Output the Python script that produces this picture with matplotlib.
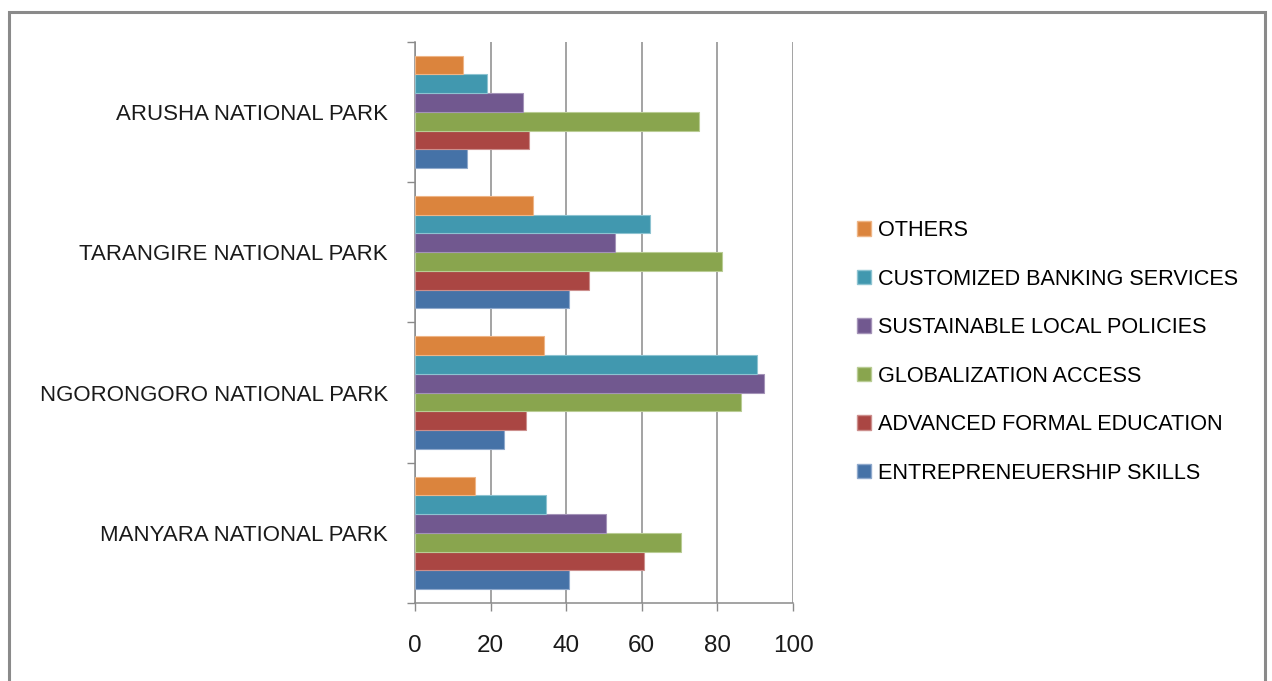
import numpy as np
import matplotlib
matplotlib.use('Agg')
import matplotlib.pyplot as plt
from matplotlib.patches import Patch, Rectangle

plt.rcParams['font.family'] = ['Liberation Sans', 'DejaVu Sans']

# - DATA ------------------------------------------------------------------- #
parks = ['MANYARA NATIONAL PARK', 'NGORONGORO NATIONAL PARK',
         'TARANGIRE NATIONAL PARK', 'ARUSHA NATIONAL PARK']

series = ['ENTREPRENEUERSHIP SKILLS', 'ADVANCED FORMAL EDUCATION',
          'GLOBALIZATION ACCESS', 'SUSTAINABLE LOCAL POLICIES',
          'CUSTOMIZED BANKING SERVICES', 'OTHERS']

entrepreneurship = [40.7, 23.5, 40.7, 13.7]
formal_education = [60.5, 29.3, 45.9, 30.2]
globalization = [70.3, 86.2, 81.1, 75.0]
local_policies = [50.6, 92.3, 52.9, 28.6]
banking_services = [34.7, 90.6, 62.2, 19.0]
others = [16.0, 34.0, 31.3, 12.7]

values = [entrepreneurship, formal_education, globalization,
          local_policies, banking_services, others]

colors = ['#4572A7', '#AA4643', '#89A54E', '#71588F', '#4198AF', '#DB843D']
edges = ['#8fa9cc', '#cc8f8d', '#b9cc94', '#a493b8', '#8dc3d1', '#eeb586']

xticks = [0, 20, 40, 60, 80, 100]

# - FIGURE ----------------------------------------------------------------- #
fig = plt.figure(figsize=(12.72, 6.81), dpi=100)
fig.patches.append(Rectangle((9 / 1272, -0.05), 1256 / 1272, 1 - 12 / 681 + 0.05,
                             transform=fig.transFigure, fill=False,
                             edgecolor='#8a8a8a', linewidth=2.2, zorder=0))

ax = fig.add_axes([415 / 1272, 1 - 603 / 681, 378 / 1272, (603 - 41.7) / 681])

y = np.arange(len(parks))
n = len(series)
h = 0.8 / n
for i in range(n):
    offset = -0.4 + h * (i + 0.5)
    ax.barh(y + offset, values[i], height=h, color=colors[i],
            edgecolor=edges[i], linewidth=0.8, zorder=3)

ax.set_xlim(0, 100)
ax.set_ylim(-0.5, len(parks) - 0.5)

ax.set_xticks(xticks)
ax.set_xticklabels([str(t) for t in xticks], fontsize=17.5, color='#1a1a1a')
ax.tick_params(axis='x', direction='out', length=6, width=1, color='#8a8a8a', pad=17)

ax.set_yticks(y)
ax.set_yticklabels(parks, fontsize=16, color='#1a1a1a')
ax.set_yticks(np.arange(-0.5, len(parks)), minor=True)
ax.tick_params(axis='y', which='major', length=0, pad=19.5)
ax.tick_params(axis='y', which='minor', direction='out', length=6, width=1, color='#8a8a8a')

ax.grid(axis='x', color='#8a8a8a', linewidth=1.1, zorder=0)
ax.set_axisbelow(True)

for side in ['top', 'right']:
    ax.spines[side].set_visible(False)
for side in ['left', 'bottom']:
    ax.spines[side].set_color('#8a8a8a')
    ax.spines[side].set_linewidth(1.1)

handles = [Patch(facecolor=colors[i], edgecolor=edges[i], label=series[i])
           for i in range(n)][::-1]
fig.legend(handles=handles, loc='upper left', bbox_to_anchor=(857 / 1272, 1 - 220 / 681),
           frameon=False, fontsize=15.6, handlelength=0.65, handleheight=0.65,
           handletextpad=0.3, labelspacing=1.27, borderpad=0, borderaxespad=0)

fig.savefig('out.png', dpi=100)
